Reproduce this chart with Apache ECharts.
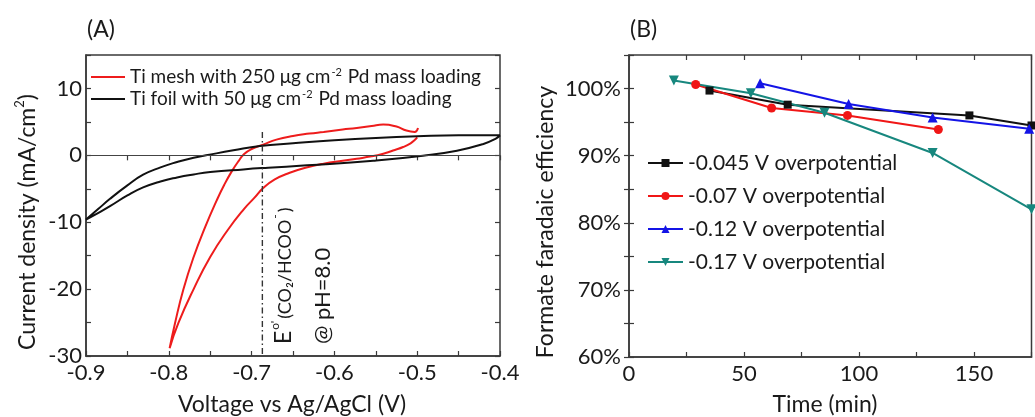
<!DOCTYPE html>
<html>
<head>
<meta charset="utf-8">
<script src="https://cdn.jsdelivr.net/npm/echarts@6/dist/echarts.min.js"></script>
<style>
  html, body { margin: 0; background: #fff; }
  #chart { width: 1035px; height: 417px; }
</style>
</head>
<body>
<div id="chart"></div>
<script>
// ---- (A) cyclic voltammetry ----
const meshName = 'Ti mesh with 250 μg cm-2 Pd mass loading';
const foilName = 'Ti foil with 50 μg cm-2 Pd mass loading';

// Ti mesh loop: anodic end -> cathodic branch -> vertex -> return branch
const meshV = [-0.499, -0.503, -0.513, -0.525, -0.541, -0.555, -0.573, -0.590, -0.613, -0.630, -0.650, -0.670,
    -0.686, -0.700, -0.709, -0.716, -0.724, -0.733, -0.742, -0.756, -0.770, -0.7825, -0.7925, -0.799,
    -0.7885, -0.770, -0.750, -0.729, -0.709, -0.697, -0.686, -0.672, -0.654, -0.635, -0.613, -0.590,
    -0.573, -0.555, -0.541, -0.527, -0.517, -0.508, -0.503, -0.500];
const meshJ = [4.1, 3.5, 3.7, 4.3, 4.6, 4.4, 4.1, 3.85, 3.5, 3.25, 2.9, 2.35,
    1.6, 0.95, 0.2, -0.9, -2.4, -4.4, -6.7, -10.7, -15.2, -20.1, -25.1, -28.85,
    -25.1, -20.0, -15.2, -11.2, -8.0, -6.4, -4.9, -3.6, -2.6, -1.85, -1.24, -0.8,
    -0.5, -0.15, 0.25, 0.8, 1.24, 1.8, 2.3, 2.7];

// Ti foil loop
const foilV = [-0.400, -0.450, -0.500, -0.550, -0.600, -0.650, -0.690, -0.722, -0.755, -0.770, -0.790, -0.810,
    -0.831, -0.850, -0.871, -0.885, -0.900,
    -0.885, -0.871, -0.850, -0.831, -0.810, -0.790, -0.770, -0.750, -0.710, -0.680, -0.633, -0.553, -0.493,
    -0.452, -0.420, -0.405, -0.400];
const foilJ = [3.0, 3.0, 2.85, 2.6, 2.25, 1.8, 1.4, 0.75, 0.0, -0.35, -1.0, -1.8,
    -2.9, -4.5, -6.5, -8.0, -9.6,
    -8.6, -7.6, -6.0, -4.8, -3.9, -3.3, -2.85, -2.5, -2.1, -1.85, -1.5, -0.8, -0.05,
    0.7, 1.7, 2.5, 3.0];

// formal potential marker
const eZeroV = -0.687;
const eZeroTop = 3.5;

// ---- (B) faradaic efficiency ----
const feNames = ['-0.045 V overpotential', '-0.07 V overpotential', '-0.12 V overpotential', '-0.17 V overpotential'];
const timeA = [35, 69, 148, 175];
const feA = [99.7, 97.6, 96.0, 94.5];
const timeB = [29, 62, 95, 134.5];
const feB = [100.6, 97.1, 96.0, 93.9];
const timeC = [57, 95.5, 132, 174];
const feC = [100.8, 97.7, 95.7, 94.0];
const timeD = [19.5, 53, 85, 132, 175];
const feD = [101.2, 99.3, 96.4, 90.4, 82.0];

const FONT = 'Lato';
const TXT = '#1a1a1a';
const AXIS = '#3a3a3a';

const pairs = (xs, ys) => xs.map((x, i) => [x, ys[i]]);
const supRich = {
    sup: { fontSize: 11, verticalAlign: 'top', lineHeight: 12, padding: [0, 1, 8, 1], fontFamily: FONT, color: TXT }
};

const mainX = (gi, min, max, interval, fmt) => ({
    type: 'value', gridIndex: gi, min, max, interval,
    axisLine: { show: true, onZero: false, lineStyle: { color: AXIS, width: 1.5 } },
    axisTick: { show: true, inside: true, length: 5, lineStyle: { color: AXIS, width: 1.2 } },
    axisLabel: { show: true, formatter: fmt, color: TXT, fontFamily: FONT, fontSize: 22, margin: 6 },
    splitLine: { show: false }
});
const mirrorAxis = (gi, min, max, interval, position) => ({
    type: 'value', gridIndex: gi, min, max, interval, position,
    axisLine: { show: false },
    axisTick: { show: true, inside: true, length: 5, lineStyle: { color: AXIS, width: 1.2 } },
    axisLabel: { show: false },
    splitLine: { show: false }
});
const mainY = (gi, min, max, interval, fmt, margin) => ({
    type: 'value', gridIndex: gi, min, max, interval,
    axisLine: { show: true, onZero: false, lineStyle: { color: AXIS, width: 1.5 } },
    axisTick: { show: true, inside: true, length: 5, lineStyle: { color: AXIS, width: 1.2 } },
    axisLabel: { show: true, formatter: fmt, color: TXT, fontFamily: FONT, fontSize: 22, margin },
    splitLine: { show: false }
});

const chart = echarts.init(document.getElementById('chart'), null, { renderer: 'canvas' });

const option = {
    animation: false,
    backgroundColor: '#fff',
    grid: [
        { left: 86, top: 55, width: 414, height: 301, show: true, borderColor: AXIS, borderWidth: 1.5, backgroundColor: 'transparent' },
        { left: 629, top: 55, width: 402.5, height: 302, show: true, borderColor: AXIS, borderWidth: 1.5, backgroundColor: 'transparent' }
    ],
    xAxis: [
        mainX(0, -0.9, -0.4, 0.05, v => (Math.abs(Math.round(v * 20)) % 2 === 0 ? v.toFixed(1) : '')),
        mirrorAxis(0, -0.9, -0.4, 0.05, 'top'),
        mainX(1, 0, 175, 25, v => (v % 50 === 0 ? String(v) : '')),
        mirrorAxis(1, 0, 175, 25, 'top')
    ],
    yAxis: [
        mainY(0, -30, 15, 5, v => (v % 10 === 0 ? String(v) : ''), 4),
        mirrorAxis(0, -30, 15, 5, 'right'),
        mainY(1, 60, 105, 5, v => (v % 10 === 0 ? v + '%' : ''), 8),
        mirrorAxis(1, 60, 105, 5, 'right')
    ],
    legend: [
        {
            data: [meshName, foilName],
            orient: 'vertical', left: 91, top: 67, padding: 0,
            icon: 'rect', itemWidth: 34, itemHeight: 2, itemGap: 2,
            formatter: name => name.replace('cm-2', 'cm{sup|-2}'),
            textStyle: { color: TXT, fontFamily: FONT, fontSize: 19, lineHeight: 20, rich: supRich }
        },
        {
            data: feNames,
            orient: 'vertical', left: 647, top: 152, padding: 0,
            itemWidth: 35, itemHeight: 10, itemGap: 11,
            textStyle: { color: TXT, fontFamily: FONT, fontSize: 21, lineHeight: 22 }
        }
    ],
    series: [
        {
            name: meshName, type: 'line', xAxisIndex: 0, yAxisIndex: 0,
            data: pairs(meshV, meshJ), showSymbol: false, symbol: 'none', smooth: 0.5,
            lineStyle: { color: '#ee1c1c', width: 2 }, itemStyle: { color: '#ee1c1c' }
        },
        {
            name: foilName, type: 'line', xAxisIndex: 0, yAxisIndex: 0,
            data: pairs(foilV, foilJ), showSymbol: false, symbol: 'none', smooth: 0.5,
            lineStyle: { color: '#111', width: 2 }, itemStyle: { color: '#111' },
            markLine: {
                silent: true, symbol: ['none', 'none'], label: { show: false },
                lineStyle: { color: '#444', width: 1, type: 'solid' },
                data: [{ yAxis: 0 }]
            }
        },
        {
            name: 'E0', type: 'line', xAxisIndex: 0, yAxisIndex: 0,
            data: [[eZeroV, eZeroTop], [eZeroV, -30]], showSymbol: false, symbol: 'none',
            lineStyle: { color: '#333', width: 1.4, type: [6, 3, 1.5, 3] }
        },
        {
            name: feNames[0], type: 'line', xAxisIndex: 2, yAxisIndex: 2,
            data: pairs(timeA, feA), symbol: 'rect', symbolSize: 8,
            lineStyle: { color: '#111', width: 2 }, itemStyle: { color: '#111' }
        },
        {
            name: feNames[1], type: 'line', xAxisIndex: 2, yAxisIndex: 2,
            data: pairs(timeB, feB), symbol: 'circle', symbolSize: 9,
            lineStyle: { color: '#f01616', width: 2 }, itemStyle: { color: '#f01616' }
        },
        {
            name: feNames[2], type: 'line', xAxisIndex: 2, yAxisIndex: 2,
            data: pairs(timeC, feC), symbol: 'triangle', symbolSize: 10,
            lineStyle: { color: '#1414e6', width: 2 }, itemStyle: { color: '#1414e6' }
        },
        {
            name: feNames[3], type: 'line', xAxisIndex: 2, yAxisIndex: 2,
            data: pairs(timeD, feD), symbol: 'triangle', symbolRotate: 180, symbolSize: 10,
            lineStyle: { color: '#17877e', width: 2 }, itemStyle: { color: '#17877e' }
        }
    ],
    graphic: [
        { type: 'text', left: 87, top: 18, style: { text: '(A)', fontFamily: FONT, fontSize: 23, fill: TXT } },
        { type: 'text', left: 630, top: 18, style: { text: '(B)', fontFamily: FONT, fontSize: 23, fill: TXT } },
        {
            type: 'text', x: 292, y: 405,
            style: { text: 'Voltage vs Ag/AgCl (V)', fontFamily: FONT, fontSize: 23, fill: TXT, align: 'center', verticalAlign: 'middle' }
        },
        {
            type: 'text', x: 825, y: 405,
            style: { text: 'Time (min)', fontFamily: FONT, fontSize: 23, fill: TXT, align: 'center', verticalAlign: 'middle' }
        },
        {
            type: 'text', x: 26, y: 222, rotation: Math.PI / 2,
            style: {
                text: '{t|Current density (mA/cm}{sup|2}{t|)}', align: 'center', verticalAlign: 'middle',
                rich: {
                    t: { fontFamily: FONT, fontSize: 23, lineHeight: 26, fill: TXT, color: TXT, verticalAlign: 'bottom' },
                    sup: { fontFamily: FONT, fontSize: 13, lineHeight: 14, fill: TXT, color: TXT, verticalAlign: 'top' }
                }
            }
        },
        {
            type: 'text', x: 546, y: 222, rotation: Math.PI / 2,
            style: { text: 'Formate faradaic efficiency', fontFamily: FONT, fontSize: 23, fill: TXT, align: 'center', verticalAlign: 'middle' }
        },
        {
            type: 'text', x: 295, y: 344, rotation: Math.PI / 2,
            style: {
                text: "{e|E}{sup|o'}{s|(CO₂/HCOO}{sup|-}{s|)}", align: 'left', verticalAlign: 'bottom',
                rich: {
                    e: { fontFamily: FONT, fontSize: 23, lineHeight: 26, fill: TXT, color: TXT, verticalAlign: 'bottom' },
                    s: { fontFamily: FONT, fontSize: 18, lineHeight: 22, fill: TXT, color: TXT, verticalAlign: 'bottom', padding: [0, 0, 1, 0] },
                    sup: { fontFamily: FONT, fontSize: 12, lineHeight: 12, fill: TXT, color: TXT, verticalAlign: 'top', padding: [0, 2, 0, 1] }
                }
            }
        },
        {
            type: 'text', x: 334, y: 344, rotation: Math.PI / 2,
            style: { text: '@ pH=8.0', fontFamily: FONT, fontSize: 22, fill: TXT, align: 'left', verticalAlign: 'bottom' }
        }
    ]
};

chart.setOption(option);
</script>
</body>
</html>
